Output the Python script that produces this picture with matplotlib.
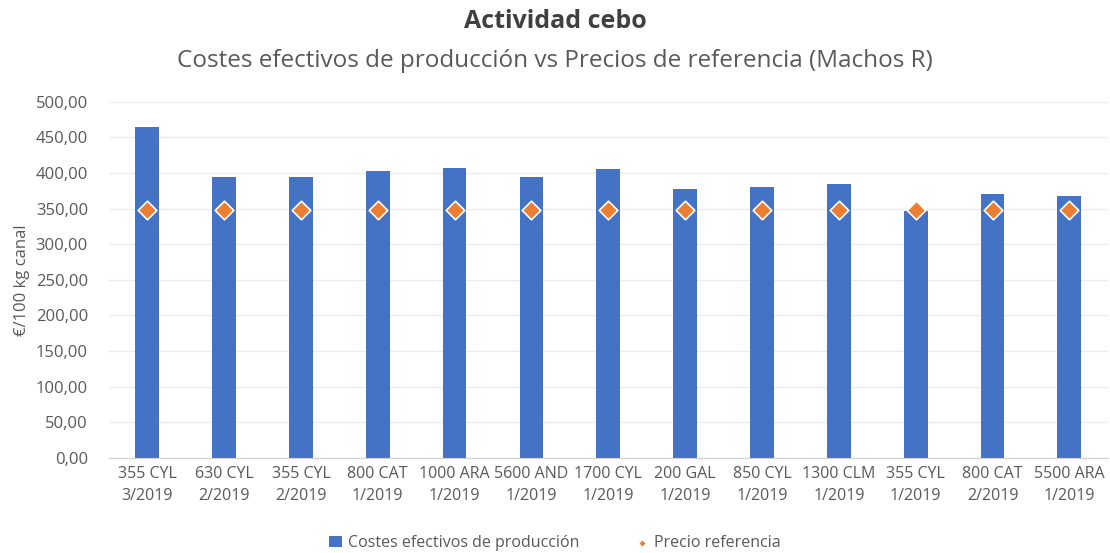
import numpy as np
import matplotlib.pyplot as plt
from matplotlib.ticker import FuncFormatter

# Datos
categorias = ["355 CYL\n3/2019", "630 CYL\n2/2019", "355 CYL\n2/2019", "800 CAT\n1/2019",
              "1000 ARA\n1/2019", "5600 AND\n1/2019", "1700 CYL\n1/2019", "200 GAL\n1/2019",
              "850 CYL\n1/2019", "1300 CLM\n1/2019", "355 CYL\n1/2019", "800 CAT\n2/2019",
              "5500 ARA\n1/2019"]
costes = [465, 395, 395, 403, 407, 395, 406, 377, 381, 384, 347, 371, 368]
precio_ref = [348] * 13

plt.rcParams['font.family'] = ['Open Sans', 'DejaVu Sans']
gris = '#595959'

fig = plt.figure(figsize=(11.1, 5.53), dpi=100)
ax = fig.add_axes([0.098, 0.172, 0.9, 0.644])

x = np.arange(len(categorias))
barras = ax.bar(x, costes, width=0.31, color='#4472C4', zorder=2,
                label='Costes efectivos de producción')
puntos = ax.scatter(x, precio_ref, marker='D', s=90, color='#ED7D31', edgecolors='white',
                    linewidths=1.2, zorder=3, label='Precio referencia')

ax.set_xlim(-0.5, len(categorias) - 0.5)
ax.set_ylim(0, 500)
ax.set_yticks(np.arange(0, 501, 50))
ax.yaxis.set_major_formatter(FuncFormatter(lambda v, p: f"{v:.2f}".replace('.', ',')))
ax.set_xticks(x)
ax.set_xticklabels(categorias, fontsize=11.5, color=gris, linespacing=1.45)
ax.tick_params(axis='y', labelsize=12, labelcolor=gris, length=0, pad=15)
ax.tick_params(axis='x', length=0, pad=6)
ax.grid(axis='y', color='#EBEBEB', linewidth=1, zorder=0)
for s in ['top', 'right', 'left']:
    ax.spines[s].set_visible(False)
ax.spines['bottom'].set_color('#D0D0D0')
ax.set_ylabel("€/100 kg canal", fontsize=12, color=gris, labelpad=4)

fig.text(0.5, 0.962, "Actividad cebo", ha='center', va='center', fontsize=18,
         fontweight='bold', color='#404040')
fig.text(0.5, 0.89, "Costes efectivos de producción vs Precios de referencia (Machos R)",
         ha='center', va='center', fontsize=17.5, color=gris)

leg = fig.legend([barras, puntos], ['Costes efectivos de producción', 'Precio referencia'],
                 loc='center', bbox_to_anchor=(0.5, 0.018), ncol=2, frameon=False,
                 fontsize=11.5, handlelength=0.8, handletextpad=0.4, columnspacing=3.5,
                 markerscale=0.45)
for t in leg.get_texts():
    t.set_color(gris)

fig.savefig("out.png", dpi=100)
